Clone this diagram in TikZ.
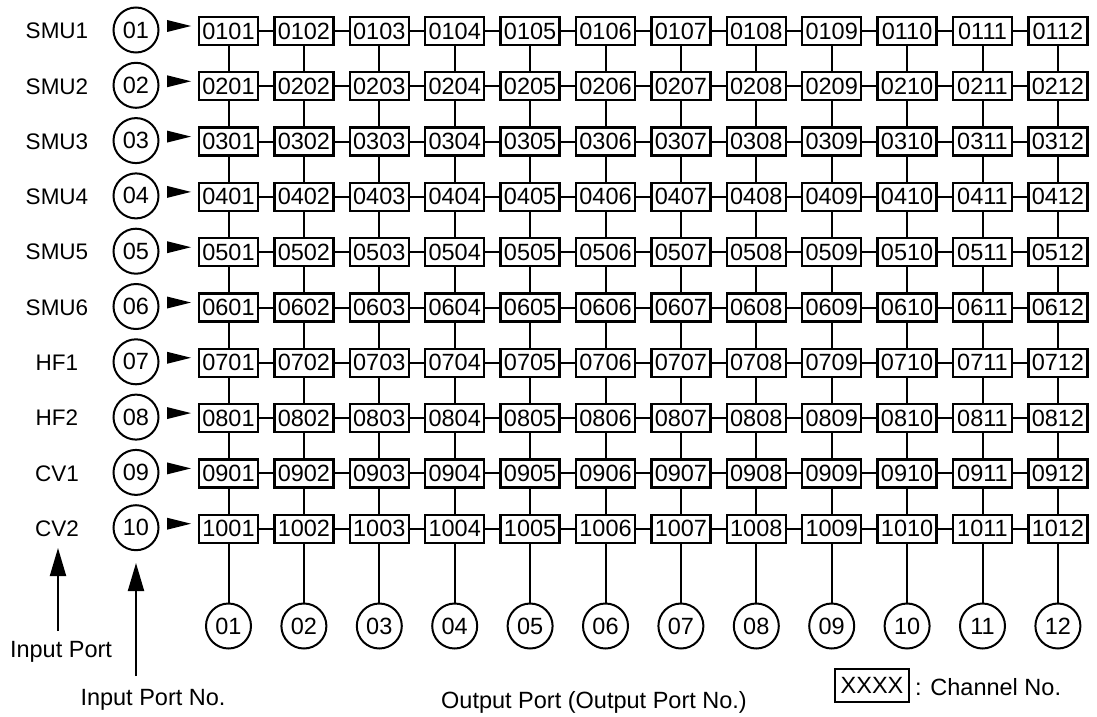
\documentclass[tikz,border=0pt]{standalone}
\usepackage{fontspec}
\setmainfont{Liberation Sans}
\usetikzlibrary{arrows.meta}
\newcommand\twod[1]{\ifnum#1<10 0\fi#1}
\begin{document}
\begin{tikzpicture}[x=1pt,y=-1pt,
  txt/.style={font=\fontsize{23.5}{28}\selectfont, inner sep=0pt},
  rowlab/.style={font=\fontsize{22.5}{27}\selectfont, inner sep=0pt},
  chbox/.style={txt, draw, line width=2.3pt, minimum width=59pt, minimum height=28pt},
  port/.style={txt, draw, circle, line width=2pt, minimum size=45pt},
  wire/.style={line width=2pt},
  uparrow/.style={wire, -{Triangle[width=16pt,length=28pt]}}
]
\useasboundingbox (0,0) rectangle (1097,717);
\foreach \r/\lab in {1/SMU1,2/SMU2,3/SMU3,4/SMU4,5/SMU5,6/SMU6,7/HF1,8/HF2,9/CV1,10/CV2} {
  \pgfmathsetmacro\yy{31+55.3*(\r-1)}
  \node[rowlab] (L\r) at (57,\yy) {\lab};
  \node[port] (I\r) at (136,\yy-1) {\twod{\r}};
  \fill (167,\yy-11) -- (191,\yy-5) -- (167,\yy+1) -- cycle;
  \foreach \c in {1,...,12} {
    \pgfmathsetmacro\xx{228.5+75.4*(\c-1)}
    \node[chbox] (B\r-\c) at (\xx,\yy) {\twod{\r}\twod{\c}};
  }
}
\foreach \r in {1,...,10} {
  \foreach \c [count=\n from 2] in {1,...,11} {
    \draw[wire] (B\r-\c.east) -- (B\r-\n.west);
  }
}
\foreach \r [count=\n from 2] in {1,...,9} {
  \foreach \c in {1,...,12} {
    \draw[wire] (B\r-\c.south) -- (B\n-\c.north);
  }
}
\foreach \c in {1,...,12} {
  \pgfmathsetmacro\xx{228.5+75.4*(\c-1)}
  \node[port] (O\c) at (\xx,626) {\twod{\c}};
  \draw[wire] (B10-\c.south) -- (O\c.north);
}
\node[txt] (ipt) at (61,652) {Input Port};
\node[txt] (ipn) at (153,700) {Input Port No.};
\node[txt] (opt) at (594,702) {Output Port (Output Port No.)};
\coordinate (ipS) at (58,631);
\coordinate (ipA) at (58,548);
\coordinate (inS) at (136,676);
\coordinate (inA) at (136,563);
\draw[uparrow] (ipS) -- (ipA);
\draw[uparrow] (inS) -- (inA);
\node[chbox, minimum width=74pt, minimum height=33pt] (leg) at (872,685.5) {XXXX};
\node[txt, anchor=west] (legt) at (915,687) {: Channel No.};
\end{tikzpicture}
\end{document}
